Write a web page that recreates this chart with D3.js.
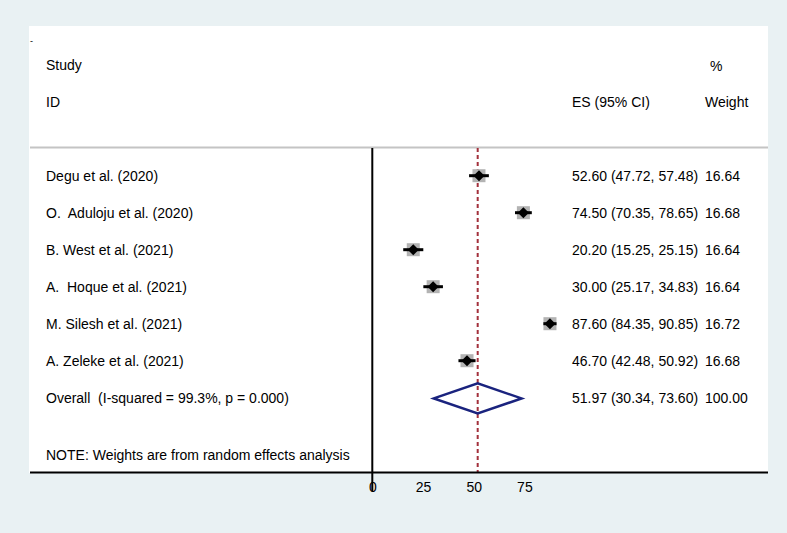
<!DOCTYPE html>
<html><head><meta charset="utf-8">
<script src="https://cdn.jsdelivr.net/npm/d3@7"></script>
<style>
html,body{margin:0;padding:0;background:#e9f1f3;}
text{font-family:"Liberation Sans",Arial,sans-serif;font-size:14px;fill:#000;white-space:pre;}
</style></head><body>
<svg id="chart" width="787" height="533"></svg>
<script>
const studies = ["Degu et al. (2020)", "O.  Aduloju et al. (2020)", "B. West et al. (2021)", "A.  Hoque et al. (2021)", "M. Silesh et al. (2021)", "A. Zeleke et al. (2021)"];
const es = [52.60, 74.50, 20.20, 30.00, 87.60, 46.70];
const lower = [47.72, 70.35, 15.25, 25.17, 84.35, 42.48];
const upper = [57.48, 78.65, 25.15, 34.83, 90.85, 50.92];
const weights = [16.64, 16.68, 16.64, 16.64, 16.72, 16.68];
const overallLabel = "Overall  (I-squared = 99.3%, p = 0.000)";
const overallES = 51.97, overallLo = 30.34, overallHi = 73.60, overallW = 100.00;
const note = "NOTE: Weights are from random effects analysis";
const tickValues = [0, 25, 50, 75];

const svg = d3.select("#chart");
const f2 = d3.format(".2f");

// panel
svg.append("rect").attr("x",29).attr("y",26).attr("width",739).attr("height",447).attr("fill","#fff");
svg.append("text").attr("x",30).attr("y",44).text("-").style("font-size","9px");

const x = d3.scaleLinear().domain([0,100]).range([372.3, 575.1]);
const y = d3.scaleLinear().domain([0,1]).range([175.7, 212.7]);

const textX = 46, esX = 572, wX = 705;

// header
svg.append("text").attr("x",textX).attr("y",65).attr("dy",".35em").text("Study");
svg.append("text").attr("x",textX).attr("y",102).attr("dy",".35em").text("ID");
svg.append("text").attr("x",esX).attr("y",102).attr("dy",".35em").text("ES (95% CI)");
svg.append("text").attr("x",710).attr("y",66).attr("dy",".35em").text("%");
svg.append("text").attr("x",wX).attr("y",102).attr("dy",".35em").text("Weight");

// separator
svg.append("line").attr("x1",30).attr("x2",768).attr("y1",147.5).attr("y2",147.5).attr("stroke","#c4c4c4").attr("stroke-width",2);

// zero line
svg.append("line").attr("x1",x(0)).attr("x2",x(0)).attr("y1",148).attr("y2",491).attr("stroke","#000").attr("stroke-width",2);

// overall dashed line
svg.append("line").attr("x1",x(overallES)).attr("x2",x(overallES)).attr("y1",148).attr("y2",472)
  .attr("stroke","#a3303c").attr("stroke-width",2).attr("stroke-dasharray","4,3");

const rows = studies.map((s,i)=>({s, es:es[i], lo:lower[i], hi:upper[i], w:weights[i], i}));

const g = svg.selectAll("g.row").data(rows).join("g").attr("class","row");
g.append("text").attr("x",textX).attr("y",d=>y(d.i)).attr("dy",".35em").text(d=>d.s);
g.append("text").attr("x",esX).attr("y",d=>y(d.i)).attr("dy",".35em").text(d=>`${f2(d.es)} (${f2(d.lo)}, ${f2(d.hi)})`);
g.append("text").attr("x",wX).attr("y",d=>y(d.i)).attr("dy",".35em").text(d=>f2(d.w));
const bs = w => Math.sqrt(w/16.64)*13;
g.append("rect").attr("x",d=>x(d.es)-bs(d.w)/2).attr("y",d=>y(d.i)-bs(d.w)/2)
  .attr("width",d=>bs(d.w)).attr("height",d=>bs(d.w)).attr("fill","#b3b3b3");
g.append("line").attr("x1",d=>x(d.lo)).attr("x2",d=>x(d.hi)).attr("y1",d=>y(d.i)).attr("y2",d=>y(d.i))
  .attr("stroke","#000").attr("stroke-width",3);
g.append("path").attr("d",d=>{const cx=x(d.es), cy=y(d.i), r=5.5; return `M${cx-r},${cy}L${cx},${cy-r}L${cx+r},${cy}L${cx},${cy+r}Z`;}).attr("fill","#000");

// overall
const oy = y(6.02);
svg.append("text").attr("x",textX).attr("y",oy).attr("dy",".35em").text(overallLabel);
svg.append("text").attr("x",esX).attr("y",oy).attr("dy",".35em").text(`${f2(overallES)} (${f2(overallLo)}, ${f2(overallHi)})`);
svg.append("text").attr("x",wX).attr("y",oy).attr("dy",".35em").text(f2(overallW));
svg.append("path").attr("d",`M${x(overallLo)},${oy}L${x(overallES)},${oy-15}L${x(overallHi)},${oy}L${x(overallES)},${oy+15}Z`)
  .attr("fill","none").attr("stroke","#1a237e").attr("stroke-width",2.5).attr("stroke-linejoin","miter");

svg.append("text").attr("x",textX).attr("y",455).attr("dy",".35em").text(note);

// axis
svg.append("line").attr("x1",30).attr("x2",768).attr("y1",472.5).attr("y2",472.5).attr("stroke","#000").attr("stroke-width",2.2);
const ax = d3.axisBottom(x).tickValues(tickValues).tickSize(0).tickPadding(0).tickFormat(d3.format("d"));
const axg = svg.append("g").attr("transform","translate(0,482)").call(ax);
axg.select(".domain").remove();
axg.selectAll("text").attr("font-family",null).attr("font-size",null).attr("dy",".71em").attr("y",0);
</script></body></html>
